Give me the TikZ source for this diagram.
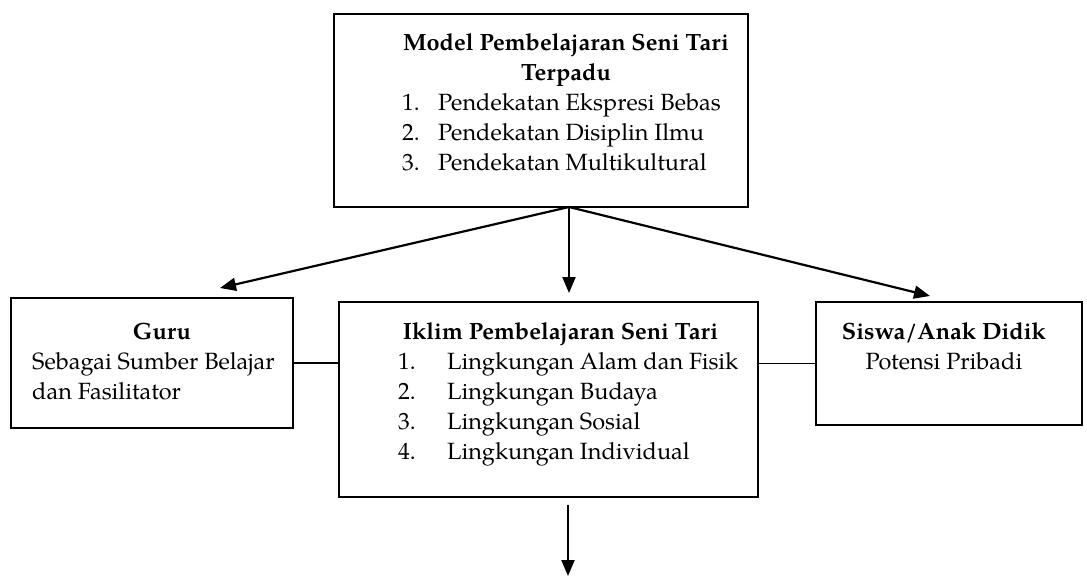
\documentclass[tikz,border=0pt]{standalone}
\usepackage{fontspec}
\setmainfont{texgyrepagella}[Extension=.otf,UprightFont=*-regular,BoldFont=*-bold,ItalicFont=*-italic,BoldItalicFont=*-bolditalic]
\usetikzlibrary{arrows.meta,calc}
\newcommand{\fsz}{\fontsize{23.5pt}{28pt}\selectfont}
\tikzset{
  box/.style={draw, line width=1.4pt, inner sep=0pt},
  txt/.style={inner sep=0pt, font=\fsz},
  arr/.style={line width=2.2pt, -{Triangle[length=16pt,width=13pt]}},
  link/.style={line width=1.4pt}
}
\begin{document}
\begin{tikzpicture}[x=1pt,y=-1pt]
\useasboundingbox (0,0) rectangle (1087,576);
% boxes
\node[box, minimum width=414pt, minimum height=193pt] (top) at (541,110.5) {};
\node[box, minimum width=282pt, minimum height=130pt] (guru) at (152,363) {};
\node[box, minimum width=419pt, minimum height=195pt] (iklim) at (548.5,399.5) {};
\node[box, minimum width=266pt, minimum height=123pt] (siswa) at (949,363.5) {};
% top text
\node[txt, anchor=base] (t1) at (566,50) {\textbf{Model Pembelajaran Seni Tari}};
\node[txt, anchor=base] (t2) at (566,80) {\textbf{Terpadu}};
\node[txt, anchor=base west] (n1) at (402,110) {1.};
\node[txt, anchor=base west] (l1) at (438,110) {Pendekatan Ekspresi Bebas};
\node[txt, anchor=base west] (n2) at (402,140) {2.};
\node[txt, anchor=base west] (l2) at (438,140) {Pendekatan Disiplin Ilmu};
\node[txt, anchor=base west] (n3) at (402,170) {3.};
\node[txt, anchor=base west] (l3) at (438,170) {Pendekatan Multikultural};
% iklim text
\node[txt, anchor=base] (i0) at (560.5,339) {\textbf{Iklim Pembelajaran Seni Tari}};
\node[txt, anchor=base west] (m1) at (398,369) {1.};
\node[txt, anchor=base west] (k1) at (447,369) {Lingkungan Alam dan Fisik};
\node[txt, anchor=base west] (m2) at (398,399) {2.};
\node[txt, anchor=base west] (k2) at (447,399) {Lingkungan Budaya};
\node[txt, anchor=base west] (m3) at (398,429) {3.};
\node[txt, anchor=base west] (k3) at (447,429) {Lingkungan Sosial};
\node[txt, anchor=base west] (m4) at (398,459) {4.};
\node[txt, anchor=base west] (k4) at (447,459) {Lingkungan Individual};
% guru text
\node[txt, anchor=base] (g0) at (162,339) {\textbf{Guru}};
\node[txt, anchor=base west] (g1) at (32,369) {Sebagai Sumber Belajar};
\node[txt, anchor=base west] (g2) at (32,399) {dan Fasilitator};
% siswa text
\node[txt, anchor=base] (s0) at (944,339) {\textbf{Siswa/Anak Didik}};
\node[txt, anchor=base] (s1) at (944,369) {Potensi Pribadi};
% connectors
\coordinate (j) at (569,207);
\coordinate (tg) at (220,288);
\coordinate (ti) at (569,293);
\coordinate (ts) at (930,296);
\coordinate (b0) at (568,505);
\coordinate (b1) at (568,576);
\draw[arr] (j) -- (tg);
\draw[arr] (j) -- (ti);
\draw[arr] (j) -- (ts);
\draw[arr] (b0) -- (b1);
\draw[link] (guru.east) -- (guru.east -| iklim.west);
\draw[link] (iklim.east |- siswa.west) -- (siswa.west);
\end{tikzpicture}
\end{document}
